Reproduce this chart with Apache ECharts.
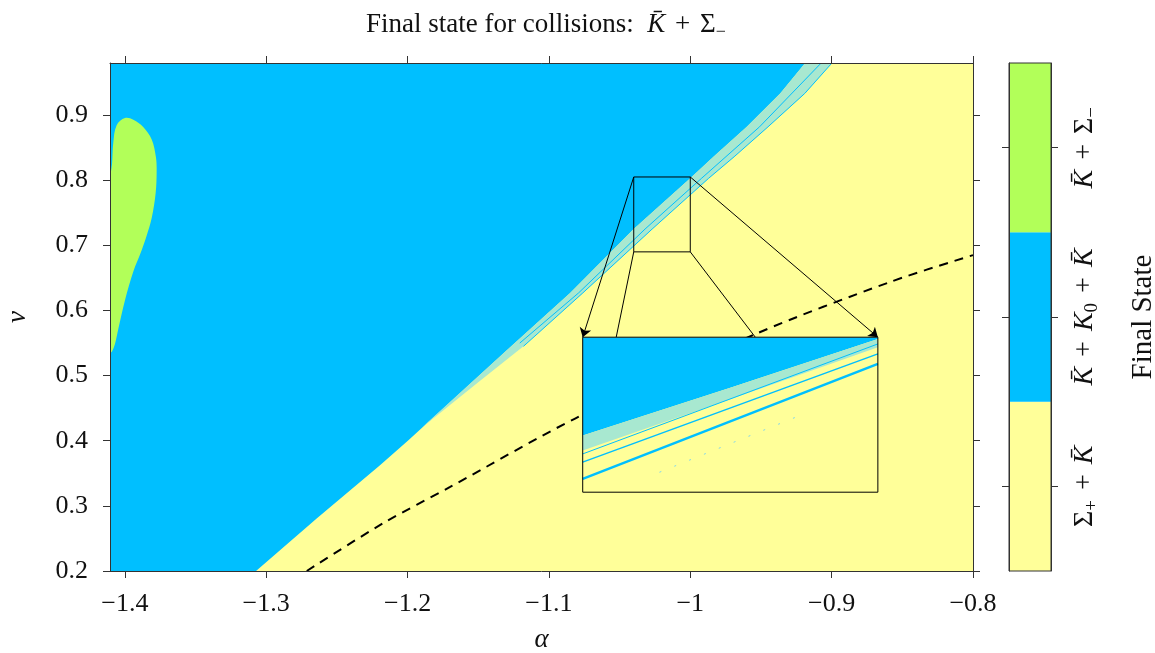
<!DOCTYPE html>
<html><head><meta charset="utf-8">
<script src="https://cdn.jsdelivr.net/npm/echarts@6/dist/echarts.min.js"></script>
<style>html,body{margin:0;padding:0;background:#fff}#c{width:1155px;height:653px}</style>
</head><body><div id="c"></div><script>
// ---------- data ----------
const alphaRange = [-1.4105, -0.8];
const vRange = [0.2, 0.98];
const alphaTicks = [-1.4, -1.3, -1.2, -1.1, -1.0, -0.9, -0.8];
const vTicks = [0.2, 0.3, 0.4, 0.5, 0.6, 0.7, 0.8, 0.9];

// boundary: K̄+K0+K̄ (upper left) vs Σ+ + K̄ (lower right)
const blueEdge = [[-1.3072,0.2],[-1.2643,0.2805],[-1.2195,0.3624],[-1.1994,0.4008],[-1.1298,0.5391],[-1.085,0.627],[-1.04,0.725],[-1.0,0.803],[-0.9836,0.836],[-0.96,0.882],[-0.9364,0.9333],[-0.9187,0.98]];
// mixed fringe along the boundary
const fringeInner = [[-1.19,0.42],[-1.1298,0.5391],[-1.085,0.627],[-1.04,0.725],[-1.0,0.803],[-0.9836,0.836],[-0.96,0.882],[-0.9364,0.9333],[-0.9187,0.98]];
const fringeOuter = [[-1.19,0.42],[-1.150,0.49],[-1.118,0.545],[-1.076,0.627],[-1.027,0.725],[-0.987,0.803],[-0.969,0.836],[-0.945,0.882],[-0.919,0.9333],[-0.8998,0.98]];
const fringeLine = [[-1.1206,0.55],[-1.079,0.627],[-1.032,0.725],[-0.992,0.803],[-0.951,0.882],[-0.9074,0.98]];
// K̄ + Σ- island
const greenBlob = [[-1.4105,0.536],[-1.4093,0.5363],[-1.4069,0.5495],[-1.4046,0.5719],[-1.3999,0.6158],[-1.394,0.6598],[-1.3881,0.6926],[-1.3846,0.7146],[-1.381,0.7419],[-1.3782,0.7804],[-1.3775,0.8134],[-1.378,0.8353],[-1.381,0.8627],[-1.387,0.8819],[-1.394,0.893],[-1.3999,0.8956],[-1.4058,0.8846],[-1.4082,0.8572],[-1.4091,0.8243],[-1.4105,0.80]];
// dashed curve
const dashedCurve = [[-1.2713,0.2],[-1.2173,0.2733],[-1.1699,0.329],[-1.0815,0.4341],[-0.9529,0.5647],[-0.8585,0.6439],[-0.8,0.685]];

// zoom window (small box) and where the magnified inset sits (main-axis units)
const zoomAlpha = [-1.04, -1.0];
const zoomV = [0.69, 0.805];
const insetAlpha = [-1.0761, -0.8673];
const insetV = [0.321, 0.559];
const connectorFeet = [-1.0524, -0.954];

// inset (magnified) contents, in zoom-window units
const insetEdge = [[-1.04,0.7321],[-1.02,0.7675],[-1.0,0.8037]];
const insetFringeLow = [[-1.04,0.7209],[-1.02,0.7590],[-1.0,0.7976]];
const insetLine1 = [[-1.04,0.7184],[-1.0,0.800]];
const insetLine2 = [[-1.04,0.7123],[-1.0,0.7926]];
const insetLine3 = [[-1.04,0.6999],[-1.0,0.7852]];
const insetDots = [[-1.0296,0.7048],[-1.0111,0.7457]];

// colour bar
const finalStates = ['Σ₊ + K̄', 'K̄ + K₀ + K̄', 'K̄ + Σ₋'];
const stateLevels = [0, 1, 2];

// ---------- styles ----------
const F = 'Liberation Serif';
const C_YEL = '#FFFF99', C_BLUE = '#00BFFF', C_GRN = '#B2FF59', C_MIX = '#A8E8D0';
const palette = [C_YEL, C_BLUE, C_GRN];
const FRAME = '#333';
const FS = 26;

function toRich(s){
  const subMap = {'₊':'+','₋':'−','₀':'0'};
  let out='', buf='';
  const flush=()=>{ if(buf){ out+='{n|'+buf+'}'; buf=''; } };
  for (let k=0;k<s.length;k++){
    const ch=s[k];
    if (ch==='K'){ flush(); let t='K'; if(s[k+1]==='\u0304'){t+='\u0304';k++;} out+='{i|'+t+'}'; }
    else if (subMap[ch]){ flush(); out+='{sub|'+subMap[ch]+'}'; }
    else if (ch==='+'){ flush(); out+='{op|+}'; }
    else buf+=ch;
  }
  flush(); return out;
}
function makeRich(fs){
  return {
    n:{fontFamily:F,fontSize:fs,lineHeight:fs+6,color:'#111'},
    op:{fontFamily:F,fontSize:fs,lineHeight:fs+6,color:'#111',padding:[0,3,0,3]},
    i:{fontFamily:F,fontSize:fs,lineHeight:fs+6,fontStyle:'italic',color:'#111'},
    sub:{fontFamily:F,fontSize:Math.round(fs*0.68),lineHeight:Math.round(fs*0.68),verticalAlign:'bottom',color:'#111'}
  };
}
const fmtNum = v => (v<0?'−':'') + String(parseFloat(Math.abs(v).toFixed(2)));

function polySeries(pts, fill, xi, yi, z, smooth){
  return {type:'custom', xAxisIndex:xi, yAxisIndex:yi, clip:true, z:z, silent:true,
    data: pts, encode:{x:0,y:1},
    renderItem:(p, api)=>{ if(p.dataIndex!==0) return null;
      return {type:'polygon', shape:{points: pts.map(q=>api.coord(q)), smooth: smooth||0}, style:{fill:fill}}; }};
}
function lineSeries(pts, color, width, xi, yi, z, type, smooth){
  return {type:'line', xAxisIndex:xi, yAxisIndex:yi, data:pts, symbol:'none', z:z, silent:true,
    smooth: smooth||false, clip:true,
    lineStyle:{color:color, width:width, type:type||'solid'}};
}
function rectSeries(ax, av, fill, stroke, xi, yi, z){
  const pts=[[ax[0],av[0]],[ax[1],av[1]]];
  return {type:'custom', xAxisIndex:xi, yAxisIndex:yi, clip:false, z:z, silent:true,
    data: pts, encode:{x:0,y:1},
    renderItem:(p, api)=>{ if(p.dataIndex!==0) return null;
      const a=api.coord([ax[0],av[1]]), b=api.coord([ax[1],av[0]]);
      return {type:'rect', shape:{x:a[0],y:a[1],width:b[0]-a[0],height:b[1]-a[1]},
        style:{fill:fill||'none', stroke:stroke||'none', lineWidth:1}}; }};
}

const regionBlue = [[alphaRange[0],vRange[0]], ...blueEdge, [alphaRange[0],vRange[1]]];
const fringePoly = [...fringeInner, ...fringeOuter.slice().reverse()];
const insetBlue = [[zoomAlpha[0],zoomV[1]], ...insetEdge, [zoomAlpha[1],zoomV[1]]];
const insetFringe = [...insetEdge, ...insetFringeLow.slice().reverse()];

const tickStyle = {show:true, inside:false, length:7, lineStyle:{color:FRAME}};
const lineStyleAx = {show:true, lineStyle:{color:FRAME, width:1}};

const option = {
  animation:false,
  backgroundColor:'#fff',
  title:{text: toRich('Final state for collisions:  K̄ + Σ₋'), left:541, top:3, textAlign:'center',
    textStyle:{rich:makeRich(27), fontFamily:F, fontSize:27, fontWeight:'normal'}},
  grid:[
    {left:110, right:182, top:63, bottom:82, show:true, backgroundColor:C_YEL, borderWidth:0, containLabel:false, outerBoundsMode:'none'},
    {left:583, top:337, width:295, height:155, show:false, containLabel:false, outerBoundsMode:'none'},
    {left:1009, width:42, top:63, bottom:82, show:false, containLabel:false, outerBoundsMode:'none'}
  ],
  xAxis:[
    {type:'value', gridIndex:0, min:alphaRange[0], max:alphaRange[1], position:'bottom', z:10,
      axisLine:lineStyleAx, axisTick:Object.assign({customValues:alphaTicks}, tickStyle), splitLine:{show:false},
      axisLabel:{customValues:alphaTicks, formatter:fmtNum, fontFamily:F, fontSize:FS, color:'#111', margin:20},
      name:'α', nameLocation:'middle', nameGap:55, nameTextStyle:{fontFamily:F, fontSize:27, fontStyle:'italic', color:'#111'}},
    {type:'value', gridIndex:0, min:alphaRange[0], max:alphaRange[1], position:'top', z:10,
      axisLine:lineStyleAx, axisTick:Object.assign({customValues:alphaTicks}, tickStyle), splitLine:{show:false},
      axisLabel:{show:false}},
    {type:'value', gridIndex:1, min:zoomAlpha[0], max:zoomAlpha[1], show:false},
    {type:'value', gridIndex:2, min:0, max:1, show:false}
  ],
  yAxis:[
    {type:'value', gridIndex:0, min:vRange[0], max:vRange[1], position:'left', z:10,
      axisLine:lineStyleAx, axisTick:Object.assign({customValues:vTicks}, tickStyle), splitLine:{show:false},
      axisLabel:{customValues:vTicks, formatter:fmtNum, fontFamily:F, fontSize:FS, color:'#111', margin:22},
      name:'v', nameLocation:'middle', nameGap:79, nameRotate:90, nameTextStyle:{fontFamily:F, fontSize:27, fontStyle:'italic', color:'#111'}},
    {type:'value', gridIndex:0, min:vRange[0], max:vRange[1], position:'right', z:10,
      axisLine:lineStyleAx, axisTick:Object.assign({customValues:vTicks}, tickStyle), splitLine:{show:false},
      axisLabel:{show:false}},
    {type:'value', gridIndex:1, min:zoomV[0], max:zoomV[1], show:false},
    {type:'value', gridIndex:2, min:0, max:3, position:'left', z:10,
      axisLine:lineStyleAx, axisTick:Object.assign({customValues:[0.5,1.5,2.5]}, tickStyle), splitLine:{show:false},
      axisLabel:{show:false}},
    {type:'value', gridIndex:2, min:0, max:3, position:'right', z:10,
      axisLine:lineStyleAx, axisTick:Object.assign({customValues:[0.5,1.5,2.5]}, tickStyle), splitLine:{show:false},
      axisLabel:{customValues:[0.5,1.5,2.5], rotate:90, margin:17,
        formatter:(v)=> toRich(finalStates[Math.floor(v)]), rich:makeRich(28)},
      name:'Final State', nameLocation:'middle', nameRotate:90, nameGap:78,
      nameTextStyle:{fontFamily:F, fontSize:29, color:'#111'}}
  ],
  series:[
    polySeries(regionBlue, C_BLUE, 0, 0, 2),
    polySeries(fringePoly, C_MIX, 0, 0, 3),
    lineSeries(fringeLine, C_BLUE, 1, 0, 0, 3),
    lineSeries(fringeOuter.slice(2), C_BLUE, 1, 0, 0, 3),
    polySeries(greenBlob, C_GRN, 0, 0, 3, 0.35),
    lineSeries(dashedCurve, '#000', 2, 0, 0, 4, [9,7], 0.3),
    rectSeries(zoomAlpha, zoomV, null, '#000', 0, 0, 5),
    {type:'lines', coordinateSystem:'cartesian2d', xAxisIndex:0, yAxisIndex:0, z:5, silent:true,
      symbol:['none','arrow'], symbolSize:9, lineStyle:{color:'#000', width:1, opacity:1},
      data:[{coords:[[zoomAlpha[0],zoomV[1]],[insetAlpha[0],insetV[1]]]},
            {coords:[[zoomAlpha[1],zoomV[1]],[insetAlpha[1],insetV[1]]]}]},
    {type:'lines', coordinateSystem:'cartesian2d', xAxisIndex:0, yAxisIndex:0, z:5, silent:true,
      symbol:['none','none'], lineStyle:{color:'#000', width:1, opacity:1},
      data:[{coords:[[zoomAlpha[0],zoomV[0]],[connectorFeet[0],insetV[1]]]},
            {coords:[[zoomAlpha[1],zoomV[0]],[connectorFeet[1],insetV[1]]]}]},
    // inset
    rectSeries(zoomAlpha, zoomV, C_YEL, null, 2, 2, 10),
    polySeries(insetBlue, C_BLUE, 2, 2, 11),
    polySeries(insetFringe, C_MIX, 2, 2, 11),
    lineSeries(insetLine1, C_BLUE, 1, 2, 2, 12),
    lineSeries(insetLine2, C_BLUE, 1.5, 2, 2, 12),
    lineSeries(insetLine3, C_BLUE, 2.5, 2, 2, 12),
    lineSeries(insetDots, '#7fd6f0', 1, 2, 2, 12, [2,14]),
    rectSeries(zoomAlpha, zoomV, null, '#000', 2, 2, 13),
    // colour bar
    {type:'custom', xAxisIndex:3, yAxisIndex:3, z:3, silent:true, data:stateLevels,
      encode:{y:0},
      renderItem:(p, api)=>{ const i=stateLevels[p.dataIndex];
        const a=api.coord([0,i+1]), b=api.coord([1,i]);
        return {type:'rect', shape:{x:a[0],y:a[1],width:b[0]-a[0],height:b[1]-a[1]}, style:{fill:palette[i]}}; }},
    rectSeries([0,1],[0,3], null, FRAME, 3, 3, 11)
  ]
};
const chart = echarts.init(document.getElementById('c'), null, {renderer:'canvas'});
chart.setOption(option);
// place the magnified inset where the insetAlpha/insetV box falls on the main axes
const tl = chart.convertToPixel({gridIndex:0}, [insetAlpha[0], insetV[1]]);
const br = chart.convertToPixel({gridIndex:0}, [insetAlpha[1], insetV[0]]);
chart.setOption({grid:[{}, {left:tl[0], top:tl[1], width:br[0]-tl[0], height:br[1]-tl[1]}, {}]});
</script></body></html>
